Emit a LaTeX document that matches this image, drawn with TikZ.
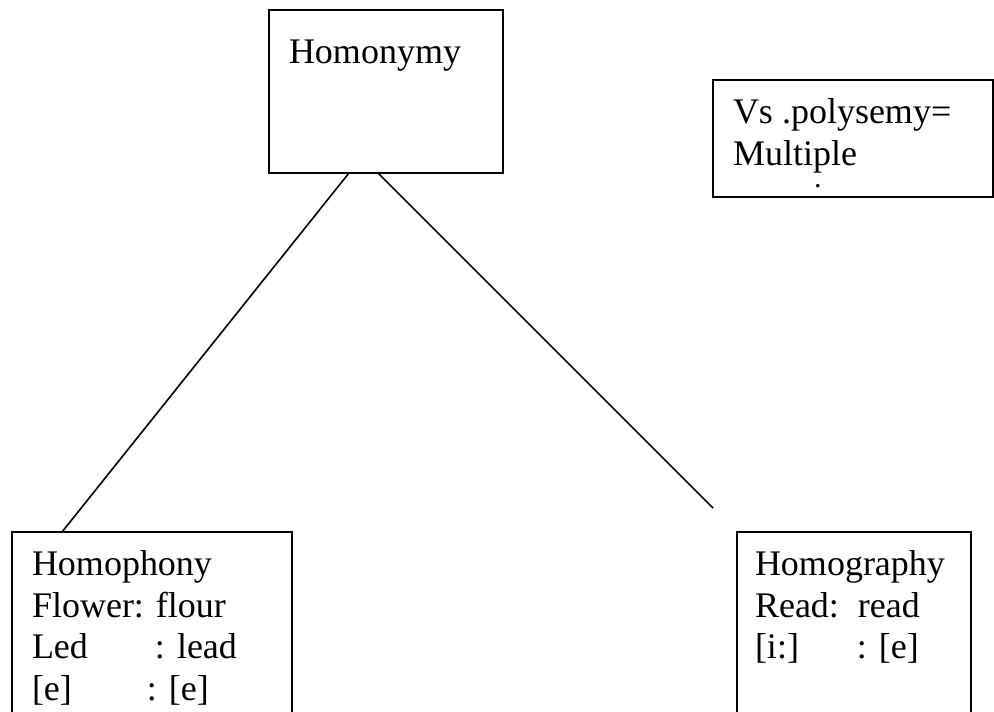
\documentclass[tikz,border=0pt]{standalone}
\usepackage{fontspec}
\setmainfont{Liberation Serif}
\begin{document}
\begin{tikzpicture}[x=1pt,y=-1pt,
  box/.style={draw=black,line width=1.6pt,inner sep=0pt,outer sep=0pt,anchor=north west},
  txt/.style={inner sep=0pt,outer sep=0pt,anchor=base west,font=\fontsize{36}{41.5}\selectfont},
  link/.style={draw=black,line width=1.6pt}]
\clip (0,0) rectangle (994,712);
\fill[white] (0,0) rectangle (994,712);
% boxes
\node[box,minimum width=234pt,minimum height=163pt] (top) at (269,10) {};
\node[box,minimum width=280pt,minimum height=117pt] (vs) at (713,80) {};
\node[box,minimum width=280pt,minimum height=220pt] (hp) at (12,532) {};
\node[box,minimum width=234pt,minimum height=220pt] (hg) at (737,532) {};
% texts
\node[txt] (t1) at (289,63) {Homonymy};
\node[txt] (t2) at (733,123) {Vs .polysemy=};
\node[txt] (t3) at (733,165) {Multiple};
\node[txt,font=\fontsize{30}{34}\selectfont] (t4) at (814,187) {.};
\node[txt] (p1) at (32,575) {Homophony};
\node[txt] (p2) at (32,617) {Flower: flour};
\node[txt] (p3) at (32,658) {\makebox[123pt][l]{Led}: lead};
\node[txt] (p4) at (32,700) {\makebox[115pt][l]{[e]}: [e]};
\node[txt] (g1) at (755,575) {Homography};
\node[txt] (g2) at (755,617) {Read:\hspace{19pt}read};
\node[txt] (g3) at (755,658) {\makebox[102pt][l]{[i:]}: [e]};
% connectors
\coordinate (rend) at (713,508);
\draw[link] ([xshift=-37pt]top.south) -- ([xshift=-90pt]hp.north);
\draw[link] ([xshift=-8pt]top.south) -- (rend);
\end{tikzpicture}
\end{document}
